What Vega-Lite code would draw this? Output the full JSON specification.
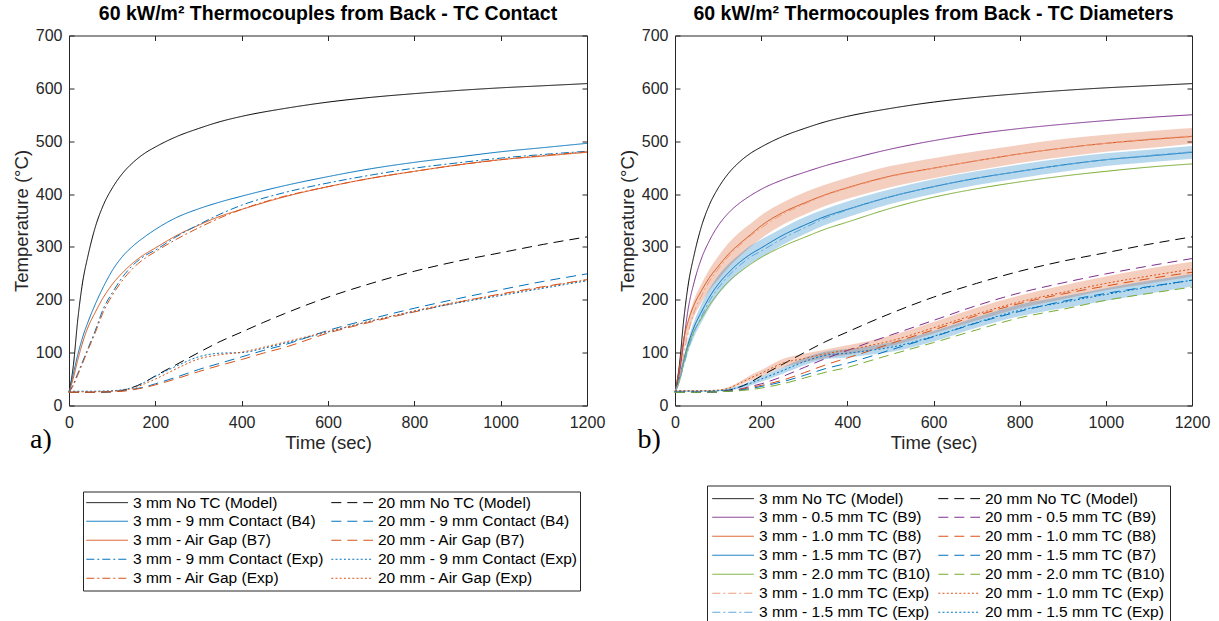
{
  "$schema": "https://vega.github.io/schema/vega-lite/v6.json",
  "padding": {"left": 11, "top": 3.5, "right": 0, "bottom": 0},
  "spacing": 11,
  "config": {
    "font": "Liberation Sans",
    "view": {"stroke": "#262626", "strokeWidth": 1},
    "axis": {"grid": false, "domain": false, "tickSize": -5, "tickColor": "#262626", "tickWidth": 1, "format": "d",
      "labelFont": "Liberation Sans", "labelFontSize": 16, "labelColor": "#262626", "labelFlush": false, "labelOverlap": false,
      "titleFont": "Liberation Sans", "titleFontSize": 18.5, "titleFontWeight": "normal", "titleColor": "#262626"},
    "title": {"font": "Liberation Sans", "fontSize": 19.5, "fontWeight": "bold", "color": "#000000", "anchor": "middle", "offset": 3},
    "legend": {"title": null, "orient": "none", "columns": 2, "symbolType": "M-7.45,0H34.25", "symbolSize": 4, "symbolStrokeWidth": 1.5,
      "labelFont": "Liberation Sans", "labelFontSize": 15.5, "labelColor": "#000000", "labelOffset": 31.5, "labelLimit": 400,
      "rowPadding": 2, "columnPadding": 5, "padding": 3, "strokeColor": "#262626", "fillColor": "#ffffff"}
  },
  "datasets": {
    "left": [
      {"s": "3 mm No TC (Model)", "t": [0,10,20,30,45,60,80,100,125,150,175,200,250,300,350,400,500,600,700,800,900,1000,1100,1200], "v": [25,75,160,225,287,335,380,411,440,461,477,489,509,524,537,547,562,574,583,590,596,601,605,609]},
      {"s": "3 mm - 9 mm Contact (B4)", "t": [0,10,20,30,45,60,80,100,125,150,175,200,250,300,350,400,500,600,700,800,900,1000,1100,1200], "v": [25,60,95,125,160,190,225,255,283,303,319,333,356,372,385,396,416,433,448,460,470,480,488,496]},
      {"s": "3 mm - Air Gap (B7)", "t": [0,10,20,30,45,60,80,100,125,150,175,200,250,300,350,400,500,600,700,800,900,1000,1100,1200], "v": [25,52,85,115,150,175,205,229,252,271,286,298,322,341,358,371,395,414,430,443,455,465,472,479]},
      {"s": "3 mm - 9 mm Contact (Exp)", "t": [0,10,20,30,45,60,80,100,125,150,175,200,250,300,350,400,500,600,700,800,900,1000,1100,1200], "v": [25,40,60,80,110,140,184,213,244,267,283,294,320,342,362,379,403,421,436,449,459,468,475,481]},
      {"s": "3 mm - Air Gap (Exp)", "t": [0,10,20,30,45,60,80,100,125,150,175,200,250,300,350,400,500,600,700,800,900,1000,1100,1200], "v": [25,38,57,77,107,136,178,208,238,261,278,291,315,336,355,371,396,414,430,443,455,465,473,480]},
      {"s": "20 mm No TC (Model)", "t": [0,50,100,125,150,175,200,250,300,350,400,450,500,600,700,800,900,1000,1100,1200], "v": [25,25,26,29,35,44,56,78,100,121,139,157,174,205,231,254,273,289,305,319]},
      {"s": "20 mm - 9 mm Contact (B4)", "t": [0,50,100,125,150,175,200,250,300,350,400,450,500,600,700,800,900,1000,1100,1200], "v": [25,25,26,28,31,35,41,54,68,80,92,104,115,142,164,184,202,219,235,249]},
      {"s": "20 mm - Air Gap (B7)", "t": [0,50,100,125,150,175,200,250,300,350,400,450,500,600,700,800,900,1000,1100,1200], "v": [25,25,26,27,30,34,39,51,64,76,87,99,110,137,158,177,195,211,225,238]},
      {"s": "20 mm - 9 mm Contact (Exp)", "t": [0,50,100,125,150,175,200,250,300,350,400,450,500,600,700,800,900,1000,1100,1200], "v": [27,27,28,30,35,44,55,75,92,99,100,108,118,139,160,178,194,208,222,236]},
      {"s": "20 mm - Air Gap (Exp)", "t": [0,50,100,125,150,175,200,250,300,350,400,450,500,600,700,800,900,1000,1100,1200], "v": [26,26,27,29,33,41,50,70,88,96,101,110,120,140,160,179,196,210,224,238]}
    ],
    "right": [
      {"s": "3 mm No TC (Model)", "t": [0,10,20,30,45,60,80,100,125,150,175,200,250,300,350,400,500,600,700,800,900,1000,1100,1200], "v": [25,75,160,225,287,335,380,411,440,461,477,489,509,524,537,547,562,574,583,590,596,601,605,609]},
      {"s": "3 mm - 0.5 mm TC (B9)", "t": [0,10,20,30,45,60,80,100,125,150,175,200,250,300,350,400,500,600,700,800,900,1000,1100,1200], "v": [25,60,120,180,235,275,312,340,365,383,397,409,427,441,454,465,485,501,514,524,532,539,545,550]},
      {"s": "3 mm - 1.0 mm TC (B8)", "t": [0,10,20,30,45,60,80,100,125,150,175,200,250,300,350,400,500,600,700,800,900,1000,1100,1200], "v": [25,70,125,158,192,215,242,263,287,306,323,340,365,383,399,412,434,449,463,476,487,496,503,509]},
      {"s": "3 mm - 1.5 mm TC (B7)", "t": [0,10,20,30,45,60,80,100,125,150,175,200,250,300,350,400,500,600,700,800,900,1000,1100,1200], "v": [25,52,85,115,150,175,205,229,252,271,286,298,322,341,358,371,395,414,430,443,455,465,472,479]},
      {"s": "3 mm - 2.0 mm TC (B10)", "t": [0,10,20,30,45,60,80,100,125,150,175,200,250,300,350,400,500,600,700,800,900,1000,1100,1200], "v": [25,45,80,110,142,163,190,212,235,252,267,280,301,318,334,347,373,394,410,423,434,443,451,457]},
      {"s": "3 mm - 1.0 mm TC (Exp)", "t": [0,10,20,30,45,60,80,100,125,150,175,200,250,300,350,400,500,600,700,800,900,1000,1100,1200], "v": [25,50,95,135,178,205,235,258,283,303,321,336,362,381,398,411,433,449,463,476,487,496,504,510]},
      {"s": "3 mm - 1.5 mm TC (Exp)", "t": [0,10,20,30,45,60,80,100,125,150,175,200,250,300,350,400,500,600,700,800,900,1000,1100,1200], "v": [25,45,75,105,140,166,198,222,246,265,281,292,316,336,355,370,395,414,430,443,455,465,473,480]},
      {"s": "20 mm No TC (Model)", "t": [0,50,100,125,150,175,200,250,300,350,400,450,500,600,700,800,900,1000,1100,1200], "v": [25,25,26,29,35,44,56,78,100,121,139,157,174,205,231,254,273,289,305,319]},
      {"s": "20 mm - 0.5 mm TC (B9)", "t": [0,50,100,125,150,175,200,250,300,350,400,450,500,600,700,800,900,1000,1100,1200], "v": [25,25,26,28,31,36,41,55,72,89,104,119,133,161,189,213,232,249,264,278]},
      {"s": "20 mm - 1.0 mm TC (B8)", "t": [0,50,100,125,150,175,200,250,300,350,400,450,500,600,700,800,900,1000,1100,1200], "v": [25,25,26,27,30,34,38,48,62,77,90,103,117,143,170,193,211,226,240,252]},
      {"s": "20 mm - 1.5 mm TC (B7)", "t": [0,50,100,125,150,175,200,250,300,350,400,450,500,600,700,800,900,1000,1100,1200], "v": [25,25,26,27,29,32,36,45,57,70,80,92,105,130,156,178,197,212,225,237]},
      {"s": "20 mm - 2.0 mm TC (B10)", "t": [0,50,100,125,150,175,200,250,300,350,400,450,500,600,700,800,900,1000,1100,1200], "v": [25,25,26,27,28,30,33,41,52,63,72,84,96,119,143,166,182,199,212,224]},
      {"s": "20 mm - 1.0 mm TC (Exp)", "t": [0,50,100,125,150,175,200,250,300,350,400,450,500,600,700,800,900,1000,1100,1200], "v": [28,28,29,33,42,52,61,80,89,98,105,113,122,147,173,196,214,231,245,258]},
      {"s": "20 mm - 1.5 mm TC (Exp)", "t": [0,50,100,125,150,175,200,250,300,350,400,450,500,600,700,800,900,1000,1100,1200], "v": [27,27,28,30,35,42,50,66,83,95,99,104,110,131,157,180,195,210,224,237]}
    ],
    "bands": [
      {"b": "o3", "t": [0,10,20,30,45,60,80,100,125,150,175,200,250,300,350,400,500,600,700,800,900,1000,1100,1200], "lo": [25,56,102,135,170,192,218,238,262,282,300,316,342,361,378,391,413,430,445,459,470,480,487,495], "hi": [25,68,122,161,202,228,258,282,308,328,344,360,384,403,418,431,453,468,481,493,504,512,519,525]},
      {"b": "b3", "t": [0,10,20,30,45,60,80,100,125,150,175,200,250,300,350,400,500,600,700,800,900,1000,1100,1200], "lo": [25,45,73,100,131,155,185,209,232,252,268,280,304,324,342,356,381,400,417,430,442,453,460,467], "hi": [25,55,91,124,161,189,221,245,268,286,302,314,336,356,372,386,409,428,443,456,468,477,484,491]},
      {"b": "o20", "t": [0,50,100,125,150,175,200,250,300,350,400,450,500,600,700,800,900,1000,1100,1200], "lo": [27,27,28,31,39,47,55,72,82,90,96,104,112,136,161,184,201,218,231,244], "hi": [29,29,30,35,45,57,67,88,98,106,114,122,132,158,185,208,227,244,259,272]},
      {"b": "b20", "t": [0,50,100,125,150,175,200,250,300,350,400,450,500,600,700,800,900,1000,1100,1200], "lo": [26,26,27,28,32,38,45,60,76,88,91,96,101,121,147,169,184,198,212,225], "hi": [28,28,29,32,38,46,55,72,90,102,107,112,119,141,167,191,206,222,236,249]}
    ],
    "frame": [{"t": 0, "v": 0}]
  },
  "resolve": {"scale": {"color": "independent", "strokeDash": "independent", "strokeWidth": "independent", "fill": "independent"}},
  "hconcat": [
    {
      "width": 518,
      "height": 370,
      "title": {"text": "60 kW/m² Thermocouples from Back - TC Contact"},
      "resolve": {"axis": {"x": "independent", "y": "independent"}},
      "layer": [
        {
          "data": {"name": "left"},
          "transform": [{"flatten": ["t", "v"]}],
          "mark": {"type": "line", "interpolate": "monotone"},
          "encoding": {
            "x": {"field": "t", "type": "quantitative", "scale": {"domain": [0, 1200], "nice": false},
              "axis": {"orient": "bottom", "values": [0,200,400,600,800,1000,1200], "title": "Time (sec)", "labelPadding": 14, "titlePadding": 3}},
            "y": {"field": "v", "type": "quantitative", "scale": {"domain": [0, 700], "nice": false},
              "axis": {"orient": "left", "values": [0,100,200,300,400,500,600,700], "title": "Temperature (°C)", "labelPadding": 12, "titlePadding": 4}},
            "color": {"field": "s", "type": "nominal",
              "scale": {"domain": ["3 mm No TC (Model)", "3 mm - 9 mm Contact (B4)", "3 mm - Air Gap (B7)", "3 mm - 9 mm Contact (Exp)", "3 mm - Air Gap (Exp)", "20 mm No TC (Model)", "20 mm - 9 mm Contact (B4)", "20 mm - Air Gap (B7)", "20 mm - 9 mm Contact (Exp)", "20 mm - Air Gap (Exp)"],
                "range": ["#000000", "#0072BD", "#D95319", "#0072BD", "#D95319", "#000000", "#0072BD", "#D95319", "#0072BD", "#D95319"]},
              "legend": {"legendX": 14, "legendY": 456, "padding": 3,
                "encode": {"symbols": {"update": {"strokeWidth": {"signal": "indexof(datum.value, '20 mm') == 0 && indexof(datum.value, 'Exp') > 0 ? 2.3 : 1.5"}}}}}},
            "strokeDash": {"field": "s", "type": "nominal",
              "scale": {"domain": ["3 mm No TC (Model)", "3 mm - 9 mm Contact (B4)", "3 mm - Air Gap (B7)", "3 mm - 9 mm Contact (Exp)", "3 mm - Air Gap (Exp)", "20 mm No TC (Model)", "20 mm - 9 mm Contact (B4)", "20 mm - Air Gap (B7)", "20 mm - 9 mm Contact (Exp)", "20 mm - Air Gap (Exp)"],
                "range": [[1,0],[1,0],[1,0],[8,3,2,3],[8,3,2,3],[10,6],[10,6],[10,6],[2,2.2],[2,2.2]]},
              "legend": {"legendX": 14, "legendY": 456, "padding": 3,
                "encode": {"symbols": {"update": {"strokeWidth": {"signal": "indexof(datum.value, '20 mm') == 0 && indexof(datum.value, 'Exp') > 0 ? 2.3 : 1.5"}}}}}},
            "strokeWidth": {"field": "s", "type": "nominal",
              "scale": {"domain": ["3 mm No TC (Model)", "3 mm - 9 mm Contact (B4)", "3 mm - Air Gap (B7)", "3 mm - 9 mm Contact (Exp)", "3 mm - Air Gap (Exp)", "20 mm No TC (Model)", "20 mm - 9 mm Contact (B4)", "20 mm - Air Gap (B7)", "20 mm - 9 mm Contact (Exp)", "20 mm - Air Gap (Exp)"],
                "range": [1, 1, 1, 1.3, 1.3, 1.4, 1.3, 1.3, 2.4, 2.4]},
              "legend": null}
          }
        },
        {
          "data": {"name": "frame"},
          "mark": {"type": "point", "opacity": 0},
          "encoding": {
            "x": {"field": "t", "type": "quantitative", "scale": {"domain": [0, 1200], "nice": false},
              "axis": {"orient": "top", "values": [0,200,400,600,800,1000,1200], "labels": false, "title": null}},
            "y": {"field": "v", "type": "quantitative", "scale": {"domain": [0, 700], "nice": false},
              "axis": {"orient": "right", "values": [0,100,200,300,400,500,600,700], "labels": false, "title": null}}
          }
        },
        {
          "data": {"name": "frame"},
          "mark": {"type": "text", "font": "Liberation Serif", "fontSize": 28, "align": "center", "baseline": "middle", "color": "#000000"},
          "encoding": {
            "x": {"datum": -65, "type": "quantitative", "scale": {"domain": [0, 1200], "nice": false}, "axis": null},
            "y": {"datum": -66, "type": "quantitative", "scale": {"domain": [0, 700], "nice": false}, "axis": null},
            "text": {"value": "a)"}
          }
        }
      ]
    },
    {
      "width": 517,
      "height": 370,
      "title": {"text": "60 kW/m² Thermocouples from Back - TC Diameters"},
      "resolve": {"axis": {"x": "independent", "y": "independent"}},
      "layer": [
        {
          "data": {"name": "bands"},
          "transform": [{"flatten": ["t", "lo", "hi"]}],
          "mark": {"type": "area", "interpolate": "monotone", "opacity": 0.28},
          "encoding": {
            "x": {"field": "t", "type": "quantitative", "scale": {"domain": [0, 1200], "nice": false}, "axis": null},
            "y": {"field": "lo", "type": "quantitative", "scale": {"domain": [0, 700], "nice": false}, "axis": null},
            "y2": {"field": "hi"},
            "fill": {"field": "b", "type": "nominal", "scale": {"domain": ["o3", "b3", "o20", "b20"], "range": ["#D95319", "#0072BD", "#D95319", "#0072BD"]}, "legend": null}
          }
        },
        {
          "data": {"name": "right"},
          "transform": [{"flatten": ["t", "v"]}],
          "mark": {"type": "line", "interpolate": "monotone"},
          "encoding": {
            "x": {"field": "t", "type": "quantitative", "scale": {"domain": [0, 1200], "nice": false},
              "axis": {"orient": "bottom", "values": [0,200,400,600,800,1000,1200], "title": "Time (sec)", "labelPadding": 14, "titlePadding": 3}},
            "y": {"field": "v", "type": "quantitative", "scale": {"domain": [0, 700], "nice": false},
              "axis": {"orient": "left", "values": [0,100,200,300,400,500,600,700], "title": "Temperature (°C)", "labelPadding": 12, "titlePadding": 4}},
            "color": {"field": "s", "type": "nominal",
              "scale": {"domain": ["3 mm No TC (Model)", "3 mm - 0.5 mm TC (B9)", "3 mm - 1.0 mm TC (B8)", "3 mm - 1.5 mm TC (B7)", "3 mm - 2.0 mm TC (B10)", "3 mm - 1.0 mm TC (Exp)", "3 mm - 1.5 mm TC (Exp)", "20 mm No TC (Model)", "20 mm - 0.5 mm TC (B9)", "20 mm - 1.0 mm TC (B8)", "20 mm - 1.5 mm TC (B7)", "20 mm - 2.0 mm TC (B10)", "20 mm - 1.0 mm TC (Exp)", "20 mm - 1.5 mm TC (Exp)"],
                "range": ["#000000", "#7E2F8E", "#D95319", "#0072BD", "#77AC30", "#EE9C7E", "#5FA8DA", "#000000", "#7E2F8E", "#D95319", "#0072BD", "#77AC30", "#D95319", "#0072BD"]},
              "legend": {"legendX": 32, "legendY": 450, "padding": 5,
                "encode": {"symbols": {"update": {"strokeWidth": {"signal": "indexof(datum.value, '20 mm') == 0 && indexof(datum.value, 'Exp') > 0 ? 2.3 : 1.5"}}}}}},
            "strokeDash": {"field": "s", "type": "nominal",
              "scale": {"domain": ["3 mm No TC (Model)", "3 mm - 0.5 mm TC (B9)", "3 mm - 1.0 mm TC (B8)", "3 mm - 1.5 mm TC (B7)", "3 mm - 2.0 mm TC (B10)", "3 mm - 1.0 mm TC (Exp)", "3 mm - 1.5 mm TC (Exp)", "20 mm No TC (Model)", "20 mm - 0.5 mm TC (B9)", "20 mm - 1.0 mm TC (B8)", "20 mm - 1.5 mm TC (B7)", "20 mm - 2.0 mm TC (B10)", "20 mm - 1.0 mm TC (Exp)", "20 mm - 1.5 mm TC (Exp)"],
                "range": [[1,0],[1,0],[1,0],[1,0],[1,0],[8,3,2,3],[8,3,2,3],[10,6],[10,6],[10,6],[10,6],[10,6],[2,2.2],[2,2.2]]},
              "legend": {"legendX": 32, "legendY": 450, "padding": 5,
                "encode": {"symbols": {"update": {"strokeWidth": {"signal": "indexof(datum.value, '20 mm') == 0 && indexof(datum.value, 'Exp') > 0 ? 2.3 : 1.5"}}}}}},
            "strokeWidth": {"field": "s", "type": "nominal",
              "scale": {"domain": ["3 mm No TC (Model)", "3 mm - 0.5 mm TC (B9)", "3 mm - 1.0 mm TC (B8)", "3 mm - 1.5 mm TC (B7)", "3 mm - 2.0 mm TC (B10)", "3 mm - 1.0 mm TC (Exp)", "3 mm - 1.5 mm TC (Exp)", "20 mm No TC (Model)", "20 mm - 0.5 mm TC (B9)", "20 mm - 1.0 mm TC (B8)", "20 mm - 1.5 mm TC (B7)", "20 mm - 2.0 mm TC (B10)", "20 mm - 1.0 mm TC (Exp)", "20 mm - 1.5 mm TC (Exp)"],
                "range": [1, 1, 1, 1, 1, 1.3, 1.3, 1.4, 1.3, 1.3, 1.3, 1.3, 2.4, 2.4]},
              "legend": null}
          }
        },
        {
          "data": {"name": "frame"},
          "mark": {"type": "point", "opacity": 0},
          "encoding": {
            "x": {"field": "t", "type": "quantitative", "scale": {"domain": [0, 1200], "nice": false},
              "axis": {"orient": "top", "values": [0,200,400,600,800,1000,1200], "labels": false, "title": null}},
            "y": {"field": "v", "type": "quantitative", "scale": {"domain": [0, 700], "nice": false},
              "axis": {"orient": "right", "values": [0,100,200,300,400,500,600,700], "labels": false, "title": null}}
          }
        },
        {
          "data": {"name": "frame"},
          "mark": {"type": "text", "font": "Liberation Serif", "fontSize": 28, "align": "center", "baseline": "middle", "color": "#000000"},
          "encoding": {
            "x": {"datum": -60, "type": "quantitative", "scale": {"domain": [0, 1200], "nice": false}, "axis": null},
            "y": {"datum": -66, "type": "quantitative", "scale": {"domain": [0, 700], "nice": false}, "axis": null},
            "text": {"value": "b)"}
          }
        }
      ]
    }
  ]
}
